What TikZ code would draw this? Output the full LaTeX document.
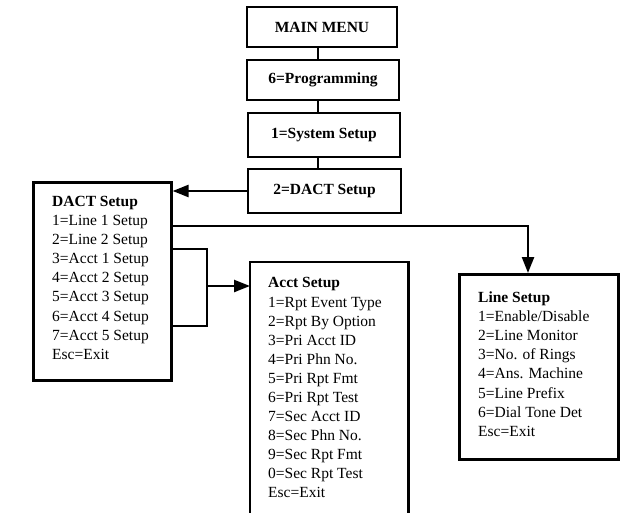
\documentclass[tikz,border=0pt]{standalone}
\usepackage{fontspec}
\setmainfont{Liberation Serif}
\usetikzlibrary{arrows.meta}
\begin{document}
\begin{tikzpicture}[x=1pt,y=-1pt,
  every node/.style={font=\fontsize{15.5}{19}\selectfont},
  menubox/.style={draw, line width=2.6pt, inner sep=0pt, font=\fontsize{15.5}{19}\selectfont\bfseries},
  bigbox/.style={inner sep=0pt, anchor=north west},
  txt/.style={inner sep=0pt, anchor=base west},
  conn/.style={line width=2.4pt},
  arr/.style={line width=2.4pt, -{Triangle[length=16pt,width=12pt]}}]
\useasboundingbox (0,0) rectangle (628,513);
% top menu boxes
\node[menubox, minimum width=150pt, minimum height=40pt] (main) at (322,27) {MAIN MENU};
\node[menubox, minimum width=152pt, minimum height=40pt] (prog) at (323,80) {6=Programming};
\node[menubox, minimum width=152pt, minimum height=44pt] (sys) at (324,135) {1=System Setup};
\node[menubox, minimum width=153pt, minimum height=44pt] (dactm) at (324.5,191) {2=DACT Setup};
% DACT setup box
\node[bigbox, draw, line width=2.6pt, minimum width=138pt, minimum height=198pt] (dact) at (32,181) {};
\node[txt, font=\fontsize{15.5}{19}\selectfont\bfseries] (dactt) at (52,206) {DACT Setup};
\foreach \t [count=\i] in {1=Line 1 Setup,2=Line 2 Setup,3=Acct 1 Setup,4=Acct 2 Setup,5=Acct 3 Setup,6=Acct 4 Setup,7=Acct 5 Setup,Esc=Exit}
  \node[txt] (d\i) at ({52},{225+19.2*(\i-1)}) {\t};
% Acct setup box (open at bottom)
\node[bigbox, minimum width=158pt, minimum height=256pt] (acct) at (250,262) {};
\draw[line width=2.6pt] (acct.south west) -- (acct.north west) -- (acct.north east) -- (acct.south east);
\node[txt, font=\fontsize{15.5}{19}\selectfont\bfseries] (acctt) at (268,287) {Acct Setup};
\foreach \t [count=\i] in {1=Rpt Event Type,2=Rpt By Option,3=Pri Acct ID,4=Pri Phn No.,5=Pri Rpt Fmt,6=Pri Rpt Test,7=Sec Acct ID,8=Sec Phn No.,9=Sec Rpt Fmt,0=Sec Rpt Test,Esc=Exit}
  \node[txt] (a\i) at ({268},{307+19.0*(\i-1)}) {\t};
% Line setup box
\node[bigbox, draw, line width=2.6pt, minimum width=159pt, minimum height=185pt] (line) at (458,273) {};
\node[txt, font=\fontsize{15.5}{19}\selectfont\bfseries] (linet) at (478,302) {Line Setup};
\foreach \t [count=\i] in {1=Enable/Disable,2=Line Monitor,3=No. of Rings,4=Ans. Machine,5=Line Prefix,6=Dial Tone Det,Esc=Exit}
  \node[txt] (l\i) at ({478},{321+19.3*(\i-1)}) {\t};
% connectors
\draw[conn] ([xshift=-4pt]main.south) -- ([xshift=-4pt]main.south |- prog.north);
\draw[conn] ([xshift=-5pt]prog.south) -- ([xshift=-5pt]prog.south |- sys.north);
\draw[conn] ([xshift=-6pt]sys.south) -- ([xshift=-6pt]sys.south |- dactm.north);
\draw[arr] (dactm.west) -- (dactm.west -| dact.east);
\coordinate (lstart) at (dact.east |- 0,226);
\coordinate (lend) at (528,0);
\draw[arr] (lstart) -| (lend |- line.north);
\coordinate (b1) at (dact.east |- 0,249);
\coordinate (b2) at (dact.east |- 0,326);
\coordinate (bx) at (207,286);
\draw[conn] (b1) -| (bx |- b2) -- (b2);
\draw[arr] (bx) -- (bx -| acct.west);
\end{tikzpicture}
\end{document}
